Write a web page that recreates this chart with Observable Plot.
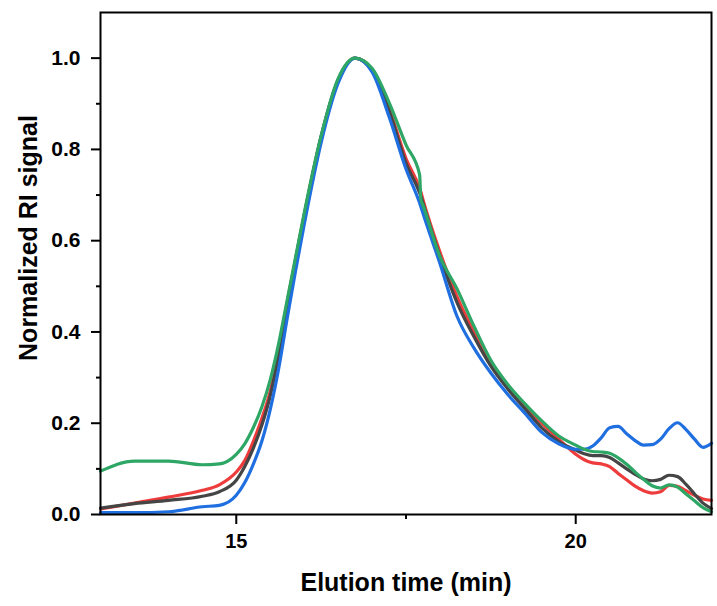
<!DOCTYPE html>
<html>
<head>
<meta charset="utf-8">
<script src="https://cdn.jsdelivr.net/npm/d3@7"></script>
<script src="https://cdn.jsdelivr.net/npm/@observablehq/plot@0.6"></script>
<style>
  html, body { margin: 0; padding: 0; background: #fff; }
  #chart svg { display: block; }
</style>
</head>
<body>
<div id="chart"></div>
<script>
// Elution time (min)
const times = [13.0, 13.5, 14.0, 14.5, 14.75, 15.0, 15.125, 15.25, 15.375, 15.5, 15.625, 15.75, 15.875, 16.0, 16.25, 16.5, 16.75, 17.0, 17.25, 17.5, 17.7, 17.72, 17.75, 18.0, 18.25, 18.5, 18.75, 19.0, 19.25, 19.5, 19.75, 20.0, 20.125, 20.25, 20.375, 20.5, 20.625, 20.75, 20.875, 21.0, 21.125, 21.25, 21.375, 21.5, 21.625, 21.75, 21.875, 22.0];
// Normalized RI signal per trace
const grayTrace  = [0.014, 0.024, 0.031, 0.040, 0.050, 0.075, 0.105, 0.145, 0.195, 0.26, 0.35, 0.46, 0.56, 0.655, 0.828, 0.952, 1.0, 0.973, 0.885, 0.77, 0.705, 0.697, 0.682, 0.565, 0.465, 0.39, 0.325, 0.275, 0.232, 0.19, 0.16, 0.141, 0.133, 0.129, 0.129, 0.125, 0.113, 0.10, 0.088, 0.078, 0.074, 0.077, 0.086, 0.083, 0.066, 0.045, 0.025, 0.013];
const redTrace   = [0.012, 0.025, 0.038, 0.053, 0.065, 0.093, 0.118, 0.16, 0.21, 0.27, 0.36, 0.465, 0.56, 0.655, 0.828, 0.952, 1.0, 0.975, 0.89, 0.78, 0.715, 0.706, 0.69, 0.575, 0.478, 0.40, 0.33, 0.28, 0.24, 0.20, 0.165, 0.132, 0.12, 0.113, 0.111, 0.105, 0.09, 0.076, 0.062, 0.052, 0.047, 0.05, 0.064, 0.062, 0.052, 0.042, 0.034, 0.031];
const blueTrace  = [0.004, 0.004, 0.006, 0.017, 0.020, 0.042, 0.07, 0.11, 0.16, 0.23, 0.32, 0.43, 0.535, 0.635, 0.815, 0.945, 1.0, 0.97, 0.872, 0.757, 0.683, 0.674, 0.66, 0.55, 0.435, 0.365, 0.31, 0.263, 0.222, 0.18, 0.155, 0.143, 0.143, 0.150, 0.168, 0.19, 0.193, 0.177, 0.162, 0.152, 0.153, 0.165, 0.188, 0.201, 0.186, 0.165, 0.147, 0.156];
const greenTrace = [0.095, 0.117, 0.117, 0.109, 0.111, 0.132, 0.155, 0.19, 0.235, 0.295, 0.375, 0.47, 0.565, 0.66, 0.83, 0.955, 1.0, 0.978, 0.903, 0.81, 0.745, 0.69, 0.678, 0.565, 0.495, 0.413, 0.338, 0.285, 0.243, 0.205, 0.172, 0.152, 0.143, 0.138, 0.137, 0.134, 0.124, 0.11, 0.093, 0.077, 0.063, 0.058, 0.065, 0.060, 0.045, 0.030, 0.015, 0.006];

const seriesNames = ["red", "gray", "blue", "green"];
const seriesColors = ["#ee3b3b", "#454545", "#1f6fe0", "#2ea665"];
const seriesValues = [redTrace, grayTrace, blueTrace, greenTrace];

const yMajorTicks = [0, 0.2, 0.4, 0.6, 0.8, 1.0];
const yMinorTicks = [0.1, 0.3, 0.5, 0.7, 0.9];
const xMajorTicks = [15, 20];
const xMinorTicks = [17.5];

const xTitle = "Elution time (min)";
const yTitle = "Normalized RI signal";

const font = "'Liberation Sans', Arial, Helvetica, sans-serif";

const lineMarks = seriesNames.map((name, i) =>
  Plot.line(times.map((t, j) => ({t, v: seriesValues[i][j]})), {
    x: "t", y: "v", stroke: seriesColors[i], strokeWidth: 3.2, curve: "monotone-x"
  })
);

const chart = Plot.plot({
  width: 717,
  height: 606,
  marginLeft: 100,
  marginRight: 6,
  marginTop: 12,
  marginBottom: 92,
  style: {fontFamily: font, background: "#fff", color: "#000"},
  x: {domain: [13, 22]},
  y: {domain: [0, 1.1]},
  marks: [
    ...lineMarks,
    Plot.frame({stroke: "#000", strokeWidth: 2}),
    Plot.axisY({ticks: yMajorTicks, tickSize: 9, tickPadding: 11, strokeWidth: 2, tickFormat: d3.format(".1f"), fontSize: 21, fontWeight: "bold", label: null}),
    Plot.axisY({ticks: yMinorTicks, tickSize: 4, strokeWidth: 2, text: null, label: null}),
    Plot.axisX({ticks: xMajorTicks, tickSize: 10, tickPadding: 9, strokeWidth: 2, tickFormat: d3.format("d"), fontSize: 20, fontWeight: "bold", label: null}),
    Plot.axisX({ticks: xMinorTicks, tickSize: 5, strokeWidth: 2, text: null, label: null}),
    Plot.text([xTitle], {text: d => d, frameAnchor: "bottom", textAnchor: "middle", dy: 68, lineAnchor: "middle", fontSize: 25, fontWeight: "bold"}),
    Plot.text([yTitle], {text: d => d, frameAnchor: "left", textAnchor: "middle", dx: -71.5, dy: -25.5, rotate: -90, lineAnchor: "middle", fontSize: 25, fontWeight: "bold"})
  ]
});
document.getElementById("chart").appendChild(chart);
</script>
</body>
</html>
